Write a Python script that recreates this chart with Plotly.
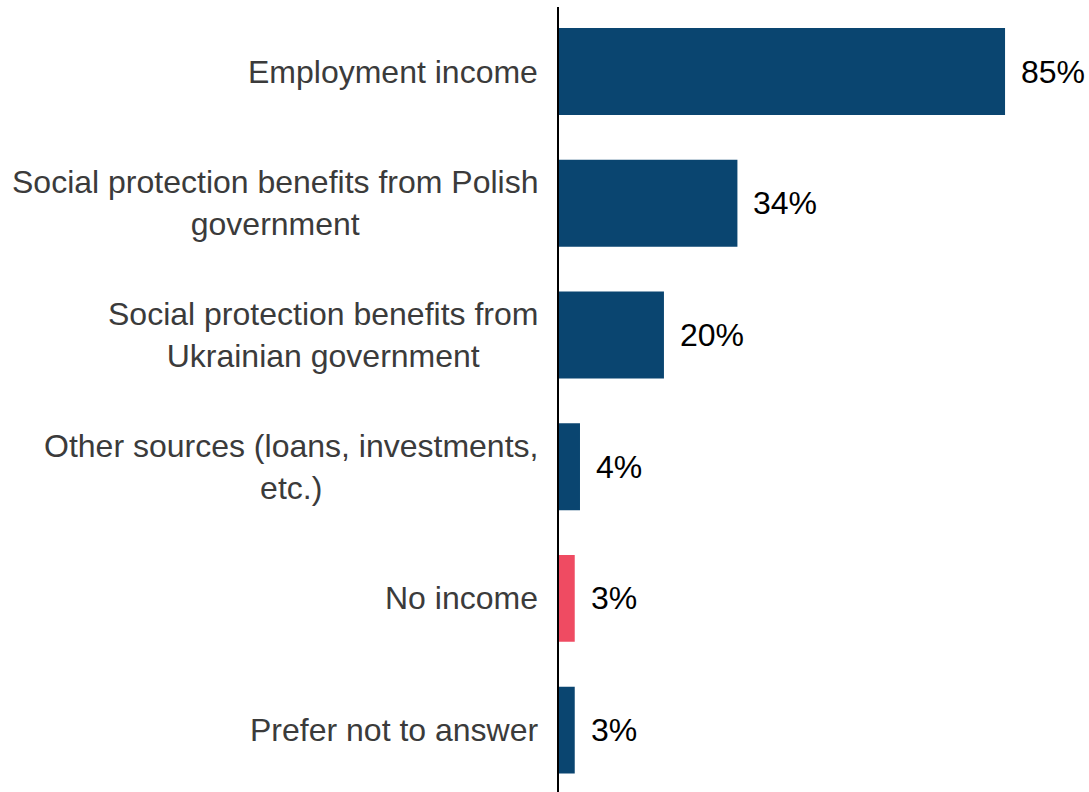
import plotly.graph_objects as go

# Sources of income (share of respondents, %)
categories = [
    "Employment income",
    "Social protection benefits from Polish<br>government",
    "Social protection benefits from<br>Ukrainian government",
    "Other sources (loans, investments,<br>etc.)",
    "No income",
    "Prefer not to answer",
]
values = [85, 34, 20, 4, 3, 3]
value_labels = ["85%", "34%", "20%", "4%", "3%", "3%"]

NAVY = "#0A4570"
RED = "#EF4B62"
bar_colors = [RED if c == "No income" else NAVY for c in categories]

positions = list(range(len(categories)))

fig = go.Figure()
fig.add_trace(go.Bar(
    x=values,
    y=positions,
    orientation="h",
    marker=dict(color=bar_colors, line=dict(width=0)),
    width=0.66,
    hoverinfo="skip",
))

FONT = "Liberation Sans, Arial, sans-serif"

# Category labels, centred multi-line text to the left of the axis
for pos, cat in zip(positions, categories):
    fig.add_annotation(
        x=0, y=pos, xref="x", yref="y",
        text=cat, showarrow=False,
        xanchor="right", yanchor="middle", align="center",
        xshift=-19,
        font=dict(family=FONT, size=32, color="#3B3B3B"),
    )

# Value labels just past each bar end
for pos, v, lab in zip(positions, values, value_labels):
    fig.add_annotation(
        x=v, y=pos, xref="x", yref="y",
        text=lab, showarrow=False,
        xanchor="left", yanchor="middle",
        xshift=14,
        font=dict(family=FONT, size=32, color="#000000"),
    )

fig.update_layout(
    width=1089, height=792,
    margin=dict(l=559, r=0, t=7, b=0),
    paper_bgcolor="white", plot_bgcolor="white",
    showlegend=False,
)
fig.update_xaxes(
    range=[0, 101.0], visible=False, showgrid=False, zeroline=False,
)
fig.update_yaxes(
    range=[5.47, -0.49], showticklabels=False, showgrid=False, zeroline=False,
    showline=True, linecolor="#000000", linewidth=2, ticks="",
)

fig.write_html("out.html")
